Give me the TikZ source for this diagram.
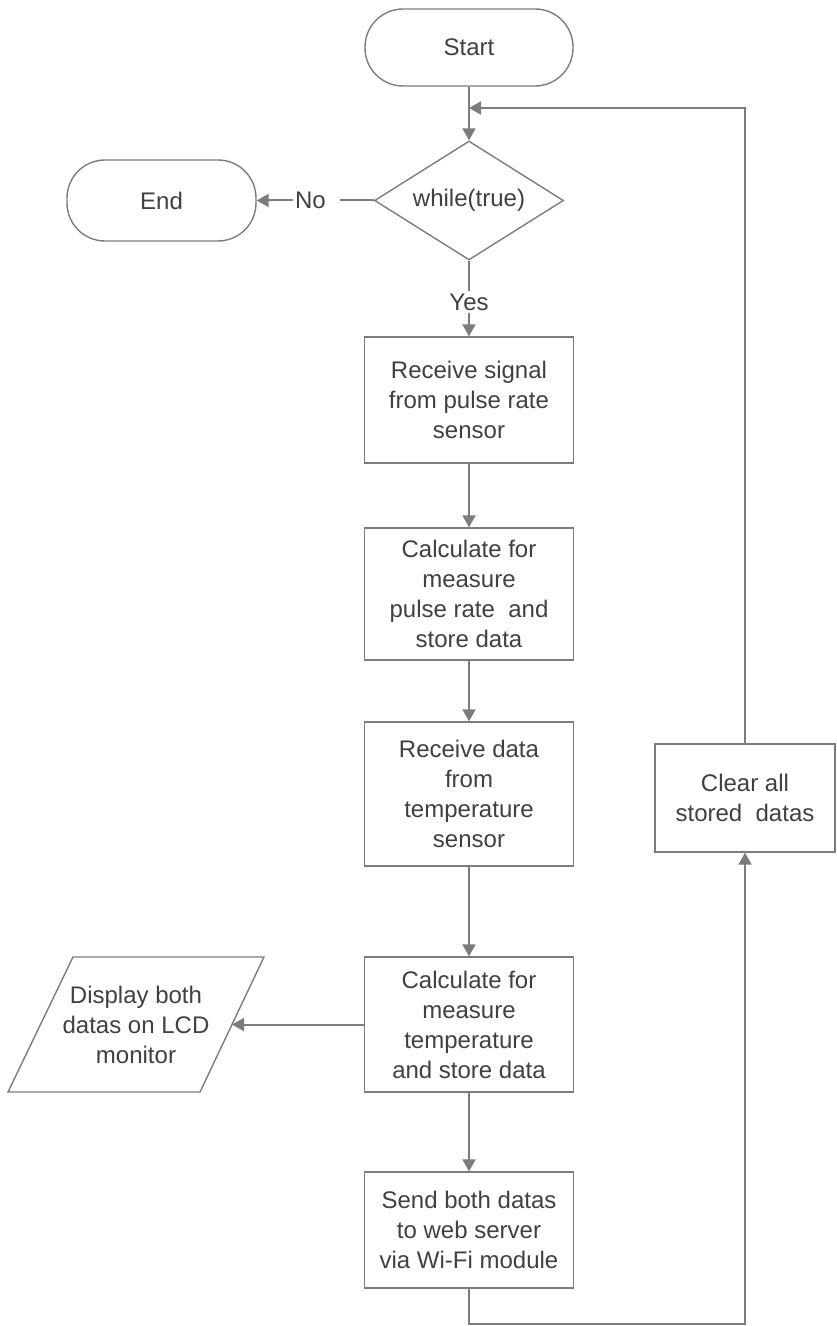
\documentclass[tikz,border=0pt]{standalone}
\usepackage{fontspec}
\setmainfont{Liberation Sans}
\usetikzlibrary{shapes.geometric,arrows.meta}
\definecolor{linegray}{HTML}{7C7C7C}
\definecolor{textgray}{HTML}{404040}
\begin{document}
\begin{tikzpicture}[x=0.5pt,y=-0.5pt,
  every node/.style={font=\fontsize{12}{15}\selectfont, text=textgray, align=center},
  outlined/.style={draw=linegray, line width=0.7pt},
  terminal/.style={outlined, rectangle, rounded corners=19pt, inner sep=0pt},
  process/.style={outlined, rectangle, inner sep=0pt, minimum width=104.5pt},
  decision/.style={outlined, diamond, aspect=1.6, inner sep=0pt,
    minimum width=94.5pt, minimum height=59.5pt},
  flow/.style={draw=linegray, line width=1pt, -{Triangle[length=6pt,width=6.5pt]}},
  link/.style={draw=linegray, line width=1pt}]
\useasboundingbox (0,0) rectangle (836,1326);

% terminals and decision
\node[terminal, minimum width=104pt, minimum height=38.5pt] (start) at (469,47.5) {Start};
\node[terminal, minimum width=94.5pt, minimum height=40.5pt] (end) at (161.5,200.5) {End};
\node[decision] (dec) at (469,200.5) {while(true)};
\node[inner sep=1pt] (no) at (310.5,200.5) {No};
\node[inner sep=1pt] (yes) at (469,302) {Yes};

% process column
\node[process, minimum height=63pt] (recv1) at (469,400)
  {Receive signal\\from pulse rate\\sensor};
\node[process, minimum height=66pt] (calc1) at (469,594)
  {Calculate for\\measure\\pulse rate\ \ and\\store data};
\node[process, minimum height=72pt] (recv2) at (469,794)
  {Receive data\\from\\temperature\\sensor};
\node[process, minimum height=67.5pt] (calc2) at (469,1024.5)
  {Calculate for\\measure\\temperature\\and store data};
\node[process, minimum height=58pt] (send) at (469,1230)
  {Send both datas\\to web server\\via Wi-Fi module};
\node[process, minimum width=90pt, minimum height=54pt] (clear) at (745,798)
  {Clear all\\stored\ \ datas};

% output parallelogram
\draw[outlined] (73,957) -- (264,957) -- (200,1092) -- (8,1092) -- cycle;
\node (disp) at (136,1024.5) {Display both\\datas on LCD\\monitor};
\coordinate (dispR) at (232,1024.5);

% routing points of the loop
\coordinate (join) at (469,108);
\coordinate (turn) at (469,1324);

% connectors
\draw[flow] (start.south) -- (dec.north);
\draw[link] (dec.west) -- ([xshift=6pt]no.east);
\draw[flow] (no.west) -- (end.east);
\draw[link] (dec.south) -- (yes.north);
\draw[flow] (yes.south) -- (recv1.north);
\draw[flow] (recv1.south) -- (calc1.north);
\draw[flow] (calc1.south) -- (recv2.north);
\draw[flow] (recv2.south) -- (calc2.north);
\draw[flow] (calc2.west) -- (dispR);
\draw[flow] (calc2.south) -- (send.north);
\draw[flow] (send.south) -- (turn) -| (clear.south);
\draw[flow] (clear.north) |- (join);
\end{tikzpicture}
\end{document}
